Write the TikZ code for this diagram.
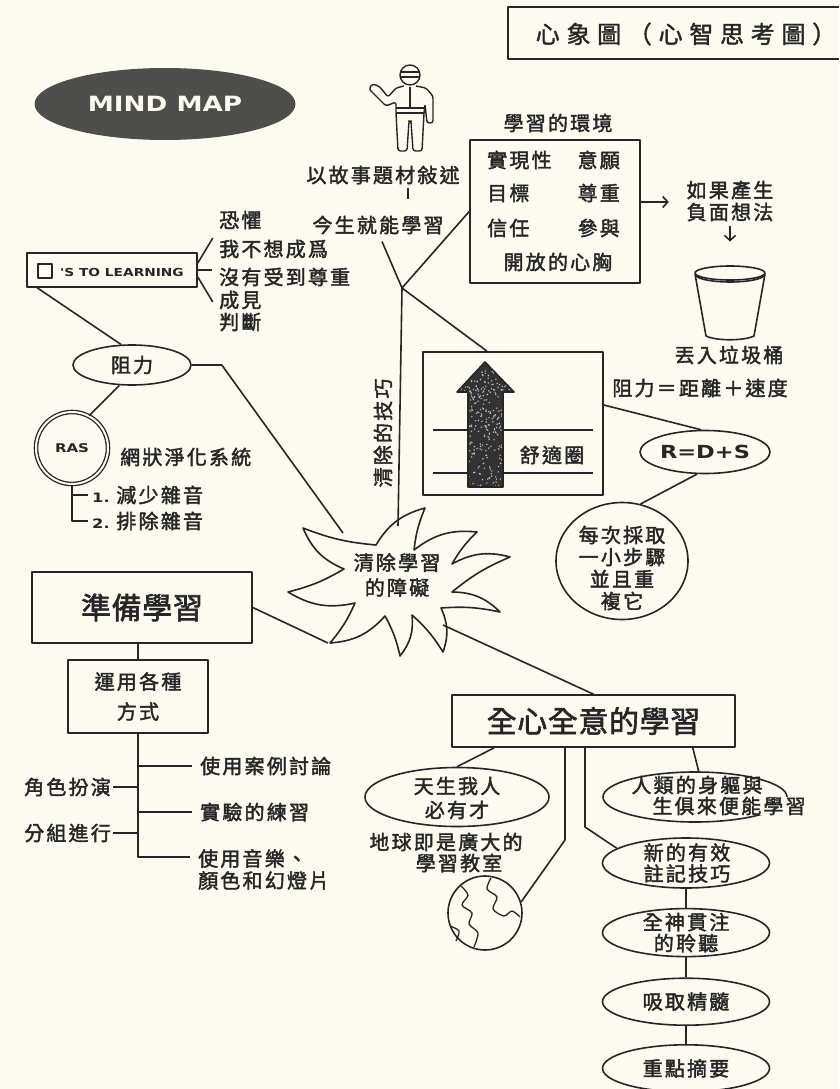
\documentclass[tikz,border=0pt]{standalone}
\usepackage{fontspec}
\usetikzlibrary{shapes.geometric,positioning,arrows.meta}

\newfontfamily\cjk[LetterSpace=11,FakeBold=2]{Noto Sans CJK TC}
\newfontfamily\cjkbig[LetterSpace=2,FakeBold=2]{Noto Sans CJK TC}
\newfontfamily\cjkwide[LetterSpace=28,FakeBold=1.5]{Noto Sans CJK TC}
\newfontfamily\heavy[FakeStretch=1.25]{DejaVu Sans}

\definecolor{paper}{RGB}{253,251,240}
\definecolor{ink}{RGB}{38,38,38}
\definecolor{blob}{RGB}{78,78,76}

\tikzset{txt/.style={font=\cjk\fontsize{20}{22}\selectfont, text=ink, inner sep=0pt, align=center}}
\tikzset{big/.style={font=\cjkbig\fontsize{30}{30}\selectfont, text=ink}}
\tikzset{latin/.style={font=\heavy\bfseries, text=ink, inner sep=0pt}}
\tikzset{wire/.style={draw=ink, line width=1.6pt}}
\tikzset{frame/.style={draw=ink, line width=1.6pt, inner sep=0pt}}
\tikzset{oval/.style={ellipse, draw=ink, line width=1.6pt, inner sep=0pt, txt}}

\begin{document}
\begin{tikzpicture}[x=1pt, y=-1pt, line join=round]
\useasboundingbox (0,0) rectangle (839,1089);
\fill[paper] (0,0) rectangle (839,1089);

% title
\node[txt, font=\cjkwide\fontsize{24}{24}\selectfont] (title) at (686,34) {心象圖（心智思考圖）};
\draw[wire] (839,7) -- (508,7) -- (508,59) -- (839,59);

\node[ellipse, fill=blob, minimum width=261pt, minimum height=72pt, inner sep=0pt,
  font=\heavy\bfseries\fontsize{21}{21}\selectfont, text=paper] (mindmap) at (165,104) {MIND MAP};

% storyteller
\begin{scope}[wire, line width=1.4pt, rounded corners=2.5pt]
\draw (410,75) circle (10pt);
\draw (401,72) -- (419,72) (400,77) -- (420,77);
\draw (404,86) -- (396,88) -- (388,97) -- (379,86) -- (372,84) -- (369,89) -- (386,106)
  -- (396,102) -- (396,113) -- (398,151) -- (407,151) -- (409,121) -- (411,121)
  -- (413,151) -- (422,151) -- (424,113) -- (425,104) -- (427,123) -- (433,123)
  -- (433,96) -- (426,88) -- (416,86);
\draw (410,87) -- (410,108) (396,108) -- (424,108) (396,113) -- (424,113);
\end{scope}
\node[txt] (story) at (383,175) {以故事題材敍述};
\draw[wire] (408,188) -- (408,199);
\node[txt] (now) at (378,225) {今生就能學習};

% learning environment
\node[txt] (envlbl) at (558,123) {學習的環境};
\node[frame, minimum width=170pt, minimum height=143pt] (env) at (555,211.5) {};
\node[txt, anchor=west] (real) at (487,160) {實現性};
\node[txt, anchor=east] (will) at (620,160) {意願};
\node[txt, anchor=west] (goal) at (487,193) {目標};
\node[txt, anchor=east] (respect) at (620,193) {尊重};
\node[txt, anchor=west] (trust) at (487,228) {信任};
\node[txt, anchor=east] (join) at (620,228) {參與};
\node[txt] (open) at (558,262) {開放的心胸};

\node[txt] (neg) at (730,201) {如果產生\\負面想法};
\draw[wire, -{Straight Barb[length=5pt, width=11pt]}] ([yshift=9.5pt]env.east) -- ++(28,0);
\draw[wire, -{Straight Barb[length=5pt, width=11pt]}] ([yshift=-4pt]neg.south) -- ++(0,16);

% bin
\begin{scope}[wire]
\draw (730,273) ellipse [x radius=35, y radius=7];
\draw (696,276) .. controls (705,284) and (755,284) .. (764,276);
\draw (695,274) -- (706,336) .. controls (716,341) and (744,341) .. (754,336) -- (765,274);
\end{scope}
\node[txt] (trash) at (729,355) {丟入垃圾桶};

% comfort zone
\node[txt] (formula) at (700,388) {阻力＝距離＋速度};
\node[frame, minimum width=180pt, minimum height=143pt] (comfort) at (513,423.5) {};
\draw[wire] (433,430) -- (593,430) (433,473) -- (593,473);
\fill[black!80] (468,487) -- (468,392) -- (457,392) -- (485,362) -- (514,392) -- (503,392) -- (503,487) -- cycle;
\begin{scope}
\clip (468,487) -- (468,392) -- (457,392) -- (485,362) -- (514,392) -- (503,392) -- (503,487) -- cycle;
\pgfmathsetseed{11}
\foreach \i in {1,...,420} \fill[white!75!black] (457+57*rnd, 362+125*rnd) circle (0.8pt);
\end{scope}
\draw[wire] (468,487) -- (468,392) -- (457,392) -- (485,362) -- (514,392) -- (503,392) -- (503,487) -- cycle;
\node[txt] (zone) at (552,455) {舒適圈};

\node[oval, latin, font=\heavy\bfseries\fontsize{18}{18}\selectfont, minimum width=130pt, minimum height=43pt] (rds) at (705,452) {R=D+S};
\draw[wire] ([yshift=18.5pt]comfort.east) -- (rds.100);
\node[oval, minimum width=132pt, minimum height=117pt] (step) at (622,561) {};
\node[txt] (stepT) at (622,568) {每次採取\\一小步驟\\並且重\\複它};
\draw[wire] (rds.250) -- (step.72);

% central burst
\draw[wire] (344,569)
  \foreach \tx/\ty/\vx/\vy in {303/528/376/545, 425/508/414/550, 477/532/452/564, 510/557/452/592,
     500/612/441/608, 443/652/412/615, 400/656/385/616, 330/643/355/603, 288/592/344/569}
  { to[bend left=22] (\tx,\ty) to[bend right=8] (\vx,\vy) } -- cycle;
\node[txt, font=\cjk\fontsize{20}{25}\selectfont] (starT) at (397,575) {清除學習\\的障礙};
\coordinate (hub) at (402,288);
\coordinate (starN) at (398,526);
\coordinate (starNW) at (343,533);
\coordinate (starSW) at (328,643);
\coordinate (starSE) at (443,625);
\draw[wire] ([xshift=4pt,yshift=-7pt]now.south) -- (hub) -- (env.west);
\draw[wire] (hub) -- ([xshift=-26pt]comfort.north);
\draw[wire] (hub) -- (starN);
\node[txt, rotate=90] (tech) at (383,433) {清除的技巧};

% resistance
\node[frame, minimum width=170pt, minimum height=34pt] (stl) at (112,270) {};
\node[draw=ink, line width=1.3pt, minimum size=14pt, inner sep=0pt] (blank) at (45,271) {};
\node[latin, font=\heavy\bfseries\fontsize{11}{11}\selectfont] (stltxt) at (122,272) {'S TO LEARNING};
\node[txt, anchor=west] (fear) at (219,220) {恐懼};
\node[txt, anchor=west] (f1) at (219,249) {我不想成爲};
\node[txt, anchor=west] (f2) at (219,277) {沒有受到尊重};
\node[txt, anchor=west] (f3) at (219,300) {成見};
\node[txt, anchor=west] (f4) at (219,322) {判斷};
\draw[wire] ([yshift=7pt]stl.east) -- ++(15,-25);
\draw[wire] (stl.east) -- ++(14,0);
\draw[wire] ([yshift=-7pt]stl.east) -- ++(15,25);

\node[oval, minimum width=118pt, minimum height=40pt] (resist) at (132,365) {阻力};
\draw[wire] ([xshift=11pt]stl.south west) -- (resist.118);
\draw[wire] (resist.east) -- ++(30,0) -- (starNW);
\node[circle, draw=ink, line width=1.3pt, double=paper, double distance=2pt, minimum size=72pt,
  latin, font=\heavy\bfseries\fontsize{12}{12}\selectfont] (ras) at (72,448) {RAS};
\draw[wire] (resist.238) -- (ras.62);
\node[txt, anchor=west] (rasname) at (120,457) {網狀淨化系統};
\node[txt, anchor=west] (noise1) at (92,495) {{\heavy\bfseries\fontsize{13}{13}\selectfont 1.}\ 減少雜音};
\node[txt, anchor=west] (noise2) at (92,521) {{\heavy\bfseries\fontsize{13}{13}\selectfont 2.}\ 排除雜音};
\draw[wire] (ras.south) |- ([xshift=-4pt]noise2.west);
\draw[wire] (ras.south |- noise1.west) -- ([xshift=-4pt]noise1.west);

% preparing
\node[frame, big, minimum width=220pt, minimum height=71pt] (prep) at (142,607.5) {準備學習};
\draw[wire] (prep.east) -- (starSW);
\node[frame, txt, font=\cjk\fontsize{20}{30}\selectfont, minimum width=140pt, minimum height=73pt] (ways) at (138,696.5) {運用各種\\方式};
\draw[wire] (ways.north |- prep.south) -- (ways.north);
\node[txt, anchor=west] (cases) at (200,766) {使用案例討論};
\node[txt, anchor=west] (drill) at (200,812) {實驗的練習};
\node[txt, anchor=west, align=left] (media) at (198,869.5) {使用音樂、\\顏色和幻燈片};
\node[txt, anchor=east] (role) at (111,787) {角色扮演};
\node[txt, anchor=east] (group) at (111,833) {分組進行};
\draw[wire] (ways.south) |- ([xshift=-8pt,yshift=12.5pt]media.west);
\draw[wire] (ways.south |- cases.west) -- ([xshift=-8pt]cases.west);
\draw[wire] (ways.south |- drill.west) -- ([xshift=-8pt]drill.west);
\draw[wire] ([xshift=2pt]role.east) -- (ways.south |- role.east);
\draw[wire] ([xshift=2pt]group.east) -- (ways.south |- group.east);

% whole-hearted learning
\node[frame, big, minimum width=283pt, minimum height=52pt] (whole) at (593.5,721) {全心全意的學習};
\draw[wire] (starSE) -- (whole.north);
\node[oval, minimum width=184pt, minimum height=59pt] (born) at (457,797) {};
\node[txt, font=\cjk\fontsize{20}{24}\selectfont] (bornT) at (457,798) {天生我人\\必有才};
\draw[wire] ([xshift=43pt]whole.south west) -- (born.north);
\node[txt] (earthA) at (446,842) {地球即是廣大的};
\node[txt] (earthB) at (459,863) {學習教室};
\node[circle, draw=ink, line width=1.6pt, minimum size=74pt, inner sep=0pt] (globe) at (485,913) {};
\begin{scope}[wire, line width=1.3pt]
\draw plot[smooth] coordinates {(461,886) (468,895) (462,905) (472,913) (469,924) (478,933) (474,947)};
\draw plot[smooth] coordinates {(491,878) (487,889) (497,897) (493,909) (504,916) (512,911) (520,917)};
\draw plot[smooth] coordinates {(450,926) (459,931) (456,941)};
\end{scope}
\draw[wire] (whole.south -| 565,0) -- (565,840) -- (globe.17);

\node[oval, minimum width=184pt, minimum height=50pt] (body) at (695,797) {};
\node[txt] (bodyA) at (697,785) {人類的身軀與};
\node[txt, fill=paper] (bodyB) at (729,806) {生俱來便能學習};
\draw[wire] ([xshift=-43pt]whole.south east) -- (body.82);

\node[oval, minimum width=167pt, minimum height=50pt] (notes) at (686,863) {};
\node[txt, font=\cjk\fontsize{20}{21}\selectfont] (notesT) at (687,863) {新的有效\\註記技巧};
\draw[wire] (whole.south -| 585,0) -- (585,827) -- (notes.168);
\node[oval, minimum width=167pt, minimum height=48pt, below=19pt of notes] (focus) {};
\node[txt, font=\cjk\fontsize{20}{21}\selectfont] (focusT) at (focus) {全神貫注\\的聆聽};
\node[oval, minimum width=167pt, minimum height=47pt, below=20pt of focus] (absorb) {吸取精髓};
\node[oval, minimum width=167pt, minimum height=47pt, below=18pt of absorb] (summary) {重點摘要};
\foreach \a/\b in {notes/focus, focus/absorb, absorb/summary} \draw[wire] (\a) -- (\b);
\end{tikzpicture}
\end{document}
